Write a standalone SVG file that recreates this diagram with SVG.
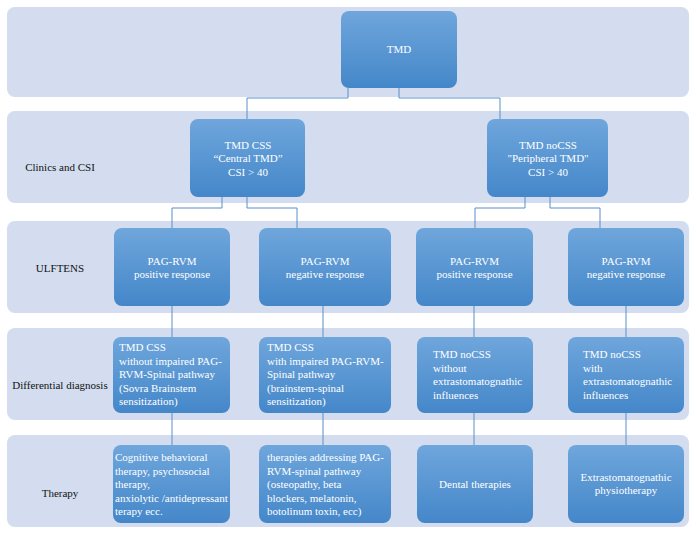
<svg xmlns="http://www.w3.org/2000/svg" width="696" height="534" viewBox="0 0 696 534">
<defs>
<linearGradient id="g" x1="0" y1="0" x2="0" y2="1">
<stop offset="0" stop-color="#6fa6dc"/>
<stop offset="1" stop-color="#4487c9"/>
</linearGradient>
<style>
.band{fill:#d3ddef}
.box{fill:url(#g)}
.t{font-family:"Liberation Serif","Times New Roman",serif;font-size:11px;fill:#ffffff}
.c{text-anchor:middle}
.lbl{font-family:"Liberation Serif","Times New Roman",serif;font-size:11px;fill:#111111;text-anchor:middle}
.conn{fill:none;stroke:#5b8fc6;stroke-width:1}
</style>
</defs>
<rect width="696" height="534" fill="#ffffff"/>
<g id="bands">
<rect class="band" x="7" y="7" width="682" height="90" rx="8"/>
<rect class="band" x="7" y="111" width="682" height="92" rx="8"/>
<rect class="band" x="7" y="221" width="682" height="92" rx="8"/>
<rect class="band" x="7" y="328" width="682" height="92" rx="8"/>
<rect class="band" x="7" y="435" width="682" height="92" rx="8"/>
</g>
<g id="labels">
<text class="lbl" x="60" y="171">Clinics and CSI</text>
<text class="lbl" x="60" y="272">ULFTENS</text>
<text class="lbl" x="60" y="389">Differential diagnosis</text>
<text class="lbl" x="60" y="497">Therapy</text>
</g>
<g id="connectors">
<path class="conn" d="M348 88V98H247V119"/>
<path class="conn" d="M399 88V98H500V119"/>
<path class="conn" d="M222 197V208H172V228"/>
<path class="conn" d="M247 197V208H297V228"/>
<path class="conn" d="M525 197V208H475V228"/>
<path class="conn" d="M550 197V208H600V228"/>
<path class="conn" d="M172 306V337M323 306V337M474 306V337M626 306V337"/>
<path class="conn" d="M172 413V445M323 413V445M474 413V445M626 413V445"/>
</g>
<g id="n-tmd">
<rect class="box" x="341" y="11" width="116" height="77" rx="8"/>
<text class="t c" x="399" y="53">TMD</text>
</g>
<g id="n-css">
<rect class="box" x="190" y="119" width="115" height="78" rx="8"/>
<text class="t c" x="248" y="148.5">TMD CSS</text>
<text class="t c" x="248" y="162">“Central TMD”</text>
<text class="t c" x="248" y="175.5">CSI &gt; 40</text>
</g>
<g id="n-nocss">
<rect class="box" x="487" y="119" width="121" height="78" rx="8"/>
<text class="t c" x="548" y="148.5">TMD noCSS</text>
<text class="t c" x="548" y="162">"Peripheral TMD"</text>
<text class="t c" x="548" y="175.5">CSI &gt; 40</text>
</g>
<g id="n-u1">
<rect class="box" x="114" y="228" width="116" height="78" rx="8"/>
<text class="t c" x="172" y="264.5">PAG-RVM</text>
<text class="t c" x="172" y="278">positive response</text>
</g>
<g id="n-u2">
<rect class="box" x="259" y="228" width="132" height="78" rx="8"/>
<text class="t c" x="325" y="264.5">PAG-RVM</text>
<text class="t c" x="325" y="278">negative response</text>
</g>
<g id="n-u3">
<rect class="box" x="416" y="228" width="117" height="78" rx="8"/>
<text class="t c" x="474.5" y="264.5">PAG-RVM</text>
<text class="t c" x="474.5" y="278">positive response</text>
</g>
<g id="n-u4">
<rect class="box" x="568" y="228" width="116" height="78" rx="8"/>
<text class="t c" x="626" y="264.5">PAG-RVM</text>
<text class="t c" x="626" y="278">negative response</text>
</g>
<g id="n-d1">
<rect class="box" x="113" y="337" width="117" height="76" rx="8"/>
<text class="t" x="119" y="351">TMD CSS</text>
<text class="t" x="119" y="364.5">without impaired PAG-</text>
<text class="t" x="119" y="378">RVM-Spinal pathway</text>
<text class="t" x="119" y="391.5">(Sovra Brainstem</text>
<text class="t" x="119" y="405">sensitization)</text>
</g>
<g id="n-d2">
<rect class="box" x="259" y="337" width="132" height="76" rx="8"/>
<text class="t" x="267" y="351">TMD CSS</text>
<text class="t" x="267" y="364.5">with impaired PAG-RVM-</text>
<text class="t" x="267" y="378">Spinal pathway</text>
<text class="t" x="267" y="391.5">(brainstem-spinal</text>
<text class="t" x="267" y="405">sensitization)</text>
</g>
<g id="n-d3">
<rect class="box" x="417" y="337" width="116" height="76" rx="8"/>
<text class="t" x="433" y="358">TMD noCSS</text>
<text class="t" x="433" y="371.5">without</text>
<text class="t" x="433" y="385">extrastomatognathic</text>
<text class="t" x="433" y="398.5">influences</text>
</g>
<g id="n-d4">
<rect class="box" x="568" y="337" width="116" height="76" rx="8"/>
<text class="t" x="583" y="358">TMD noCSS</text>
<text class="t" x="583" y="371.5">with</text>
<text class="t" x="583" y="385">extrastomatognathic</text>
<text class="t" x="583" y="398.5">influences</text>
</g>
<g id="n-t1">
<rect class="box" x="113" y="445" width="117" height="78" rx="8"/>
<text class="t" x="115" y="461">Cognitive behavioral</text>
<text class="t" x="115" y="474.5">therapy, psychosocial</text>
<text class="t" x="115" y="488">therapy,</text>
<text class="t" x="115" y="501.5">anxiolytic /antidepressant</text>
<text class="t" x="115" y="515">terapy ecc.</text>
</g>
<g id="n-t2">
<rect class="box" x="259" y="445" width="132" height="78" rx="8"/>
<text class="t" x="267" y="461">therapies addressing PAG-</text>
<text class="t" x="267" y="474.5">RVM-spinal pathway</text>
<text class="t" x="267" y="488">(osteopathy, beta</text>
<text class="t" x="267" y="501.5">blockers, melatonin,</text>
<text class="t" x="267" y="515">botolinum toxin, ecc)</text>
</g>
<g id="n-t3">
<rect class="box" x="417" y="445" width="116" height="78" rx="8"/>
<text class="t c" x="475" y="488">Dental therapies</text>
</g>
<g id="n-t4">
<rect class="box" x="568" y="445" width="116" height="78" rx="8"/>
<text class="t c" x="626" y="481">Extrastomatognathic</text>
<text class="t c" x="626" y="494">physiotherapy</text>
</g>
</svg>
